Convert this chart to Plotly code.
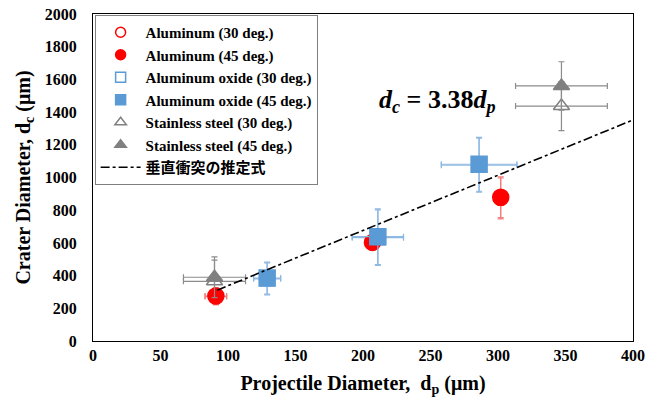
import plotly.graph_objects as go

# Data
al30_x = [91, 207, 302]
al30_y = [272, 600, 872]
al30_ex = [8, 5, 5]
al30_ey = [50, 40, 125]

al45_x = [91, 207, 302]
al45_y = [275, 603, 879]
al45_ex = [8, 5, 5]
al45_ey = [52, 40, 125]

ao30_x = [129, 211, 286]
ao30_y = [380, 632, 1075]
ao30_ex = [10, 19, 28]
ao30_ey = [98, 170, 165]

ao45_x = [129, 211, 286]
ao45_y = [385, 638, 1081]
ao45_ex = [10, 19, 28]
ao45_ey = [98, 170, 165]

ss30_x = [90, 347]
ss30_y = [365, 1437]
ss30_ex = [23, 34]
ss30_ey = [130, 150]

ss45_x = [90, 347]
ss45_y = [390, 1560]
ss45_ex = [23, 34]
ss45_ey = [125, 148]

fit_x = [92, 400]
fit_coef = 3.38
fit_y = [fit_coef * v for v in fit_x]

x_ticks = [0, 50, 100, 150, 200, 250, 300, 350, 400]
y_ticks = [0, 200, 400, 600, 800, 1000, 1200, 1400, 1600, 1800, 2000]

RED = "#FF0000"
RED_E = "#F47C7C"
BLUE = "#5B9BD5"
BLUE_E = "#8DB8E2"
GRAY = "#808080"
GRAY_E = "#8C8C8C"

SERIF = "Liberation Serif, Times New Roman, serif"

fig = go.Figure()

series = [
    # x, y, ex, ey, name, symbol, color, ecolor, size, rank
    (al30_x, al30_y, al30_ex, al30_ey, "Aluminum (30 deg.)", "circle-open", RED, RED_E, 14, 1),
    (ao30_x, ao30_y, ao30_ex, ao30_ey, "Aluminum oxide (30 deg.)", "square-open", BLUE, BLUE_E, 14, 3),
    (ss30_x, ss30_y, ss30_ex, ss30_ey, "Stainless steel (30 deg.)", "triangle-up-open", GRAY, GRAY_E, 14, 5),
    (al45_x, al45_y, al45_ex, al45_ey, "Aluminum (45 deg.)", "circle", RED, RED_E, 16, 2),
    (ao45_x, ao45_y, ao45_ex, ao45_ey, "Aluminum oxide (45 deg.)", "square", BLUE, BLUE_E, 16, 4),
    (ss45_x, ss45_y, ss45_ex, ss45_ey, "Stainless steel (45 deg.)", "triangle-up", GRAY, GRAY_E, 14, 6),
]

for x, y, ex, ey, name, symbol, color, ecolor, size, rank in series:
    fig.add_trace(go.Scatter(
        x=x, y=y, mode="markers", name=name, showlegend=False, legendgroup=name,
        marker=dict(symbol=symbol, color=color, size=size,
                    line=dict(color=color, width=1.5)),
        error_x=dict(type="data", array=ex, color=ecolor, thickness=1.2, width=3),
        error_y=dict(type="data", array=ey, color=ecolor, thickness=1.2, width=3),
    ))
    # legend entry with smaller symbol
    fig.add_trace(go.Scatter(
        x=[None], y=[None], mode="markers", name=f"<b>{name}</b>", legendgroup=name,
        legendrank=rank,
        marker=dict(symbol=symbol, color=color, size=10, line=dict(color=color, width=1.5)),
    ))

fig.add_trace(go.Scatter(
    x=fit_x, y=fit_y, mode="lines", name="<b>垂直衝突の推定式</b>",
    line=dict(color="black", width=1.6, dash="dashdot"),
    legendrank=7,
))

fig.add_annotation(
    x=255, y=1470, xref="x", yref="y", showarrow=False,
    text="<b><i>d</i><sub><i>c</i></sub> = 3.38<i>d</i><sub><i>p</i></sub></b>",
    font=dict(family=SERIF, size=26, color="black"),
)

axis_common = dict(
    showgrid=False, zeroline=False, showline=True, linecolor="black", linewidth=1,
    mirror=True, ticks="", automargin=False,
    tickfont=dict(family=SERIF, size=16, color="black"),
)

fig.update_xaxes(
    range=[0, 400], tickvals=x_ticks, ticktext=[f"<b>{v}</b>" for v in x_ticks],
    title=dict(text="<b>Projectile Diameter,  d<sub>p</sub> (μm)</b>",
               font=dict(family=SERIF, size=20, color="black"), standoff=12),
    **axis_common,
)
fig.update_yaxes(
    range=[0, 2000], tickvals=y_ticks, ticktext=[f"<b>{v}</b>" for v in y_ticks],
    ticklabelstandoff=12,
    title=dict(text="<b>Crater Diameter, d<sub>c</sub> (μm)</b>",
               font=dict(family=SERIF, size=20, color="black"), standoff=8),
    **axis_common,
)

fig.update_layout(
    width=661, height=400,
    margin=dict(l=93, r=28, t=14, b=59),
    plot_bgcolor="white", paper_bgcolor="white",
    showlegend=True,
    legend=dict(
        x=0.003, y=0.997, xanchor="left", yanchor="top",
        bgcolor="white", bordercolor="#7F7F7F", borderwidth=1,
        font=dict(family="Liberation Serif, Noto Sans CJK JP, serif", size=15, color="black"),
        tracegroupgap=0, itemwidth=40,
    ),
    font=dict(family=SERIF),
)

fig.write_html(
    "out.html",
    config={"displayModeBar": False},
    post_script="document.body.style.margin='0';document.body.style.overflow='hidden';",
)
